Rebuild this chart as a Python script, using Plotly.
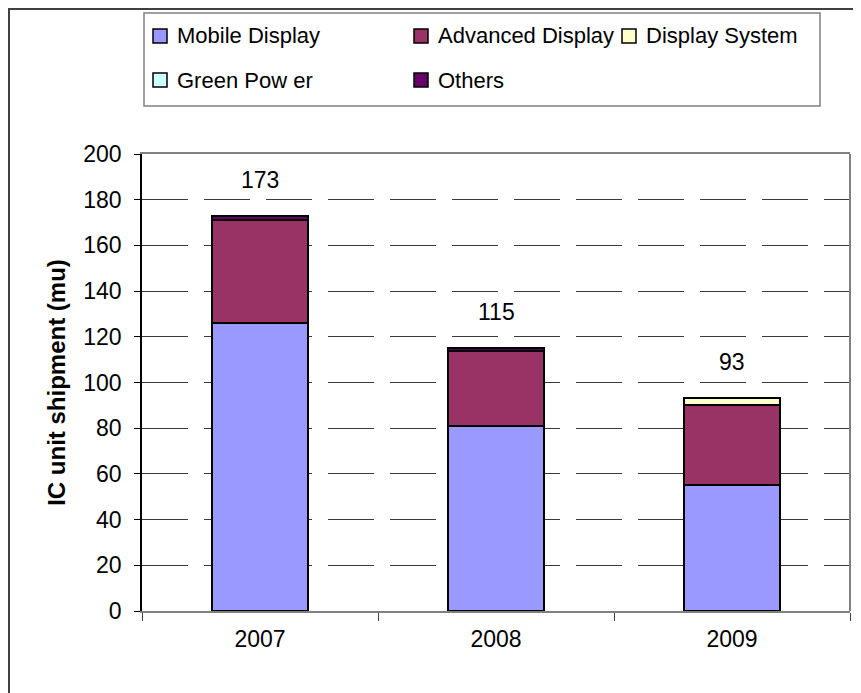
import plotly.graph_objects as go

years = ["2007", "2008", "2009"]
series_names = ["Mobile Display", "Advanced Display", "Display System", "Green Power", "Others"]
legend_labels = ["Mobile Display", "Advanced Display", "Display System", "Green Pow er", "Others"]
colors = ["#9999FF", "#993366", "#FFFFCC", "#CCFFFF", "#660066"]
mobile_display = [126, 81, 55]
advanced_display = [45, 33, 35]
display_system = [0, 0, 3]
green_power = [0, 0, 0]
others = [2, 1, 0]
y_ticks = [0, 20, 40, 60, 80, 100, 120, 140, 160, 180, 200]
y_title = "IC unit shipment (mu)"

values = [mobile_display, advanced_display, display_system, green_power, others]
totals = [sum(v[i] for v in values) for i in range(len(years))]

OFF = 8  # page body margin
W, H = 861 - OFF, 693 - OFF
L, R, T, B = 142 - OFF, 11, 154 - OFF, 82
PW, PH = W - L - R, H - T - B

def xp(px):
    return (px - OFF - L) / PW

def yp(py):
    return (T + PH - (py - OFF)) / PH

FONT = "Liberation Sans, Arial, sans-serif"

fig = go.Figure()
for name, vals, col in zip(series_names, values, colors):
    fig.add_trace(go.Bar(
        x=years, y=vals, name=name, showlegend=False,
        marker=dict(color=col, line=dict(color="black", width=2)),
    ))

annotations = []
for i, tot in enumerate(totals):
    annotations.append(dict(x=i, y=tot, xref="x", yref="y", text=str(tot),
                            showarrow=False, yshift=36, yanchor="middle",
                            font=dict(size=23, color="black", family=FONT)))

shapes = []
shapes.append(dict(type="rect", xref="paper", yref="paper",
                   x0=xp(9), x1=xp(880), y0=yp(710), y1=yp(9),
                   line=dict(color="#404040", width=2)))
shapes.append(dict(type="line", xref="paper", yref="paper", x0=1, x1=1, y0=0, y1=1,
                   line=dict(color="#808080", width=2)))
shapes.append(dict(type="rect", xref="paper", yref="paper",
                   x0=xp(144), x1=xp(820), y0=yp(106), y1=yp(13),
                   line=dict(color="#808080", width=1.5), fillcolor="white"))

col_swatch_x = [153, 414, 622]
row_y = [36, 80]
sw = 14
for i, (lab, col) in enumerate(zip(legend_labels, colors)):
    r, c = divmod(i, 3)
    sx = col_swatch_x[c]
    cy = row_y[r]
    shapes.append(dict(type="rect", xref="paper", yref="paper",
                       x0=xp(sx), x1=xp(sx + sw), y0=yp(cy + sw / 2), y1=yp(cy - sw / 2),
                       line=dict(color="black", width=1.5), fillcolor=col))
    annotations.append(dict(x=xp(sx + 22), y=yp(cy), xref="paper", yref="paper",
                            text=lab, showarrow=False, xanchor="left", yanchor="middle",
                            font=dict(size=22, color="black", family=FONT)))

fig.update_layout(
    width=W, height=H,
    margin=dict(l=L, r=R, t=T, b=B, autoexpand=False),
    barmode="stack", bargap=0.59,
    plot_bgcolor="white", paper_bgcolor="white",
    font=dict(family=FONT, color="black", size=22),
    shapes=shapes, annotations=annotations,
    xaxis=dict(
        type="category", showline=True, linecolor="#808080", linewidth=2, mirror=True,
        ticks="outside", tickson="boundaries", ticklen=8, tickcolor="#404040",
        tickfont=dict(size=23, family=FONT), showgrid=False,
        ticklabelstandoff=6,
    ),
    yaxis=dict(
        range=[0, 200], tickvals=y_ticks, showline=True, linecolor="black", linewidth=1.5,
        ticks="outside", ticklen=6, tickcolor="black",
        tickfont=dict(size=23, family=FONT),
        showgrid=True, gridcolor="#3a3a3a", gridwidth=1, griddash="46px,16px",
        zeroline=False, ticklabelstandoff=8,
        title=dict(text="<b>" + y_title + "</b>", font=dict(size=24, family=FONT), standoff=11),
    ),
)

fig.write_html("out.html")
